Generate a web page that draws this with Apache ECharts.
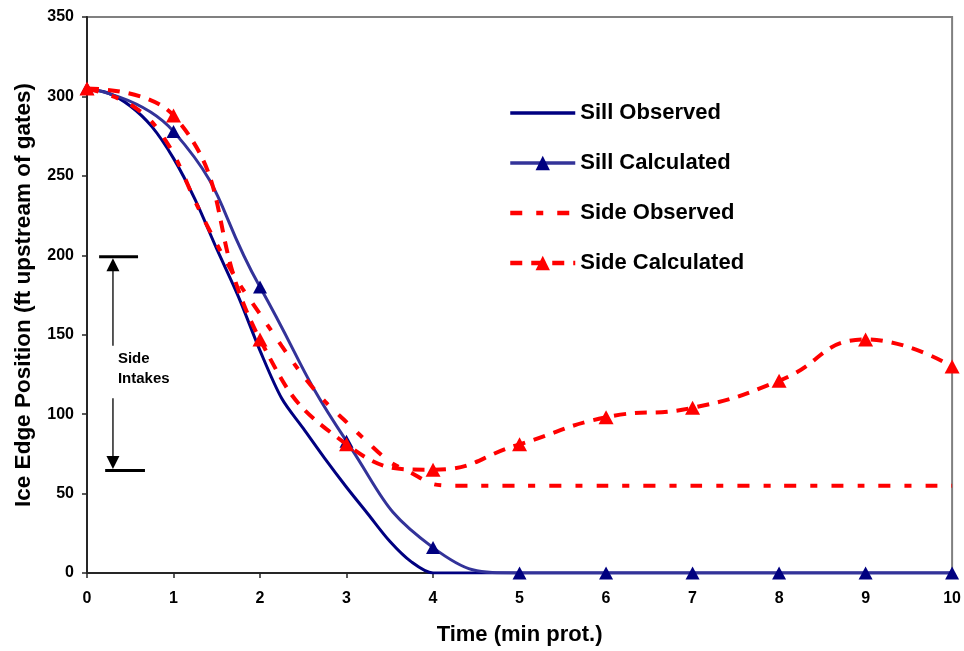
<!DOCTYPE html>
<html>
<head>
<meta charset="utf-8">
<script src="https://cdn.jsdelivr.net/npm/echarts@6/dist/echarts.min.js"></script>
<style>
  html, body { margin: 0; padding: 0; background: #fff; }
  #chart { width: 964px; height: 651px; }
</style>
</head>
<body>
<div id="chart"></div>
<script>
// ---- Data ----
const timeObserved = [0, 0.25, 0.5, 0.75, 1, 1.25, 1.5, 1.75, 2, 2.25, 2.5, 2.75, 3, 3.25, 3.5, 3.75, 4, 4.25, 4.5, 5, 6, 7, 8, 9, 10];
const sillObserved = [305, 302, 294, 281, 261, 235, 204, 174, 140, 110, 91, 72, 54, 37, 20, 7, 0, 0, 0, 0, 0, 0, 0, 0, 0];
const sideObserved = [305, 301, 295, 284, 264, 234, 207, 183, 163, 143, 124, 108, 95, 82, 70, 63, 56, 55, 55, 55, 55, 55, 55, 55, 55];

const timeCalculated = [0, 1, 2, 3, 4, 5, 6, 7, 8, 9, 10];
const sillCalculated = [305, 278, 180, 83, 16, 0, 0, 0, 0, 0, 0];
const sideCalculated = [305, 288, 147, 81, 65, 81, 98, 104, 121, 147, 130];

const seriesNames = ['Sill Observed', 'Sill Calculated', 'Side Observed', 'Side Calculated'];

// Side intakes annotation (data units)
const intakeTop = 199;
const intakeBottom = 64.5;
const intakeLabel = ['Side', 'Intakes'];

const FONT = '"Liberation Sans", Arial, sans-serif';

function pairs(xs, ys) { return xs.map((x, i) => [x, ys[i]]); }

const chart = echarts.init(document.getElementById('chart'), null, { renderer: 'canvas' });

const option = {
  animation: false,
  backgroundColor: '#fff',
  grid: { left: 87, right: 9, top: 17, bottom: 75, show: true, borderColor: '#808080', borderWidth: 2 },
  legend: {
    data: [
      { name: seriesNames[0], itemStyle: { opacity: 0 }, lineStyle: { width: 3.5 } },
      { name: seriesNames[1], lineStyle: { width: 3.5 } },
      { name: seriesNames[2], itemStyle: { opacity: 0 }, lineStyle: { width: 4.5 } },
      { name: seriesNames[3], lineStyle: { width: 4.5 } }
    ],
    orient: 'vertical',
    left: 503,
    top: 97,
    itemWidth: 65,
    itemHeight: 18,
    itemGap: 28,
    textStyle: { fontFamily: FONT, fontSize: 22, fontWeight: 'bold', color: '#000' }
  },
  xAxis: {
    type: 'value', min: 0, max: 10, interval: 1,
    name: 'Time (min prot.)', nameLocation: 'middle', nameGap: 51,
    nameTextStyle: { fontFamily: FONT, fontSize: 22, fontWeight: 'bold', color: '#000' },
    axisLine: { onZero: false, lineStyle: { color: '#262626', width: 2 } },
    axisTick: { show: true, length: 5, lineStyle: { color: '#262626', width: 1.5 } },
    axisLabel: { fontFamily: FONT, fontSize: 16, fontWeight: 'bold', color: '#000', margin: 18 },
    splitLine: { show: false }
  },
  yAxis: {
    type: 'value', min: 0, max: 350, interval: 50,
    name: 'Ice Edge Position (ft upstream of gates)', nameLocation: 'middle', nameGap: 52,
    nameTextStyle: { fontFamily: FONT, fontSize: 22.5, fontWeight: 'bold', color: '#000' },
    axisLine: { show: true, onZero: false, lineStyle: { color: '#262626', width: 2 } },
    axisTick: { show: true, length: 5, lineStyle: { color: '#262626', width: 1.5 } },
    axisLabel: { fontFamily: FONT, fontSize: 16, fontWeight: 'bold', color: '#000', margin: 13 },
    splitLine: { show: false }
  },
  series: [
    {
      name: seriesNames[0], type: 'line', data: pairs(timeObserved, sillObserved),
      smooth: 0.3, symbol: 'none', z: 2,
      lineStyle: { color: '#000080', width: 3 }, itemStyle: { color: '#000080' }
    },
    {
      name: seriesNames[1], type: 'line', data: pairs(timeCalculated, sillCalculated),
      smooth: 0.5, symbol: 'triangle', symbolSize: [14, 13], z: 3,
      lineStyle: { color: '#333399', width: 3 }, itemStyle: { color: '#000080' }
    },
    {
      name: seriesNames[2], type: 'line', data: pairs(timeObserved, sideObserved),
      smooth: 0.3, symbol: 'none', z: 4,
      lineStyle: { color: '#ff0000', width: 4, type: [12, 14, 7, 14] }, itemStyle: { color: '#ff0000' }
    },
    {
      name: seriesNames[3], type: 'line', data: pairs(timeCalculated, sideCalculated),
      smooth: 0.5, symbol: 'triangle', symbolSize: [15, 14], z: 5,
      lineStyle: { color: '#ff0000', width: 4, type: [12, 9] }, itemStyle: { color: '#ff0000' }
    }
  ]
};

chart.setOption(option);

// Annotation drawn from data coordinates
const P = (x, y) => chart.convertToPixel({ gridIndex: 0 }, [x, y]);
const topL = P(0.14, intakeTop), topR = P(0.59, intakeTop);
const botL = P(0.21, intakeBottom), botR = P(0.67, intakeBottom);
const arrowX = P(0.30, 0)[0];
const topY = topL[1], botY = botL[1];
const segTopEnd = P(0.30, 143)[1];
const segBotStart = P(0.30, 110)[1];
const txtPos1 = P(0.357, 134.6), txtPos2 = P(0.357, 122);

const black = '#000';
chart.setOption({
  graphic: [
    { type: 'line', shape: { x1: topL[0], y1: topY, x2: topR[0], y2: topY }, style: { stroke: black, lineWidth: 3 }, z: 10 },
    { type: 'line', shape: { x1: botL[0], y1: botY, x2: botR[0], y2: botY }, style: { stroke: black, lineWidth: 3 }, z: 10 },
    { type: 'line', shape: { x1: arrowX, y1: topY + 12, x2: arrowX, y2: segTopEnd }, style: { stroke: '#222', lineWidth: 1.5 }, z: 10 },
    { type: 'line', shape: { x1: arrowX, y1: segBotStart, x2: arrowX, y2: botY - 12 }, style: { stroke: '#222', lineWidth: 1.5 }, z: 10 },
    { type: 'polygon', shape: { points: [[arrowX, topY + 1.5], [arrowX - 6.5, topY + 14.5], [arrowX + 6.5, topY + 14.5]] }, style: { fill: black }, z: 10 },
    { type: 'polygon', shape: { points: [[arrowX, botY - 1.5], [arrowX - 6.5, botY - 14.5], [arrowX + 6.5, botY - 14.5]] }, style: { fill: black }, z: 10 },
    { type: 'text', x: txtPos1[0], y: txtPos1[1], style: { text: intakeLabel[0], font: 'bold 15px ' + FONT, fill: '#000', align: 'left', verticalAlign: 'middle' }, z: 10 },
    { type: 'text', x: txtPos2[0], y: txtPos2[1], style: { text: intakeLabel[1], font: 'bold 15px ' + FONT, fill: '#000', align: 'left', verticalAlign: 'middle' }, z: 10 }
  ]
});
</script>
</body>
</html>
